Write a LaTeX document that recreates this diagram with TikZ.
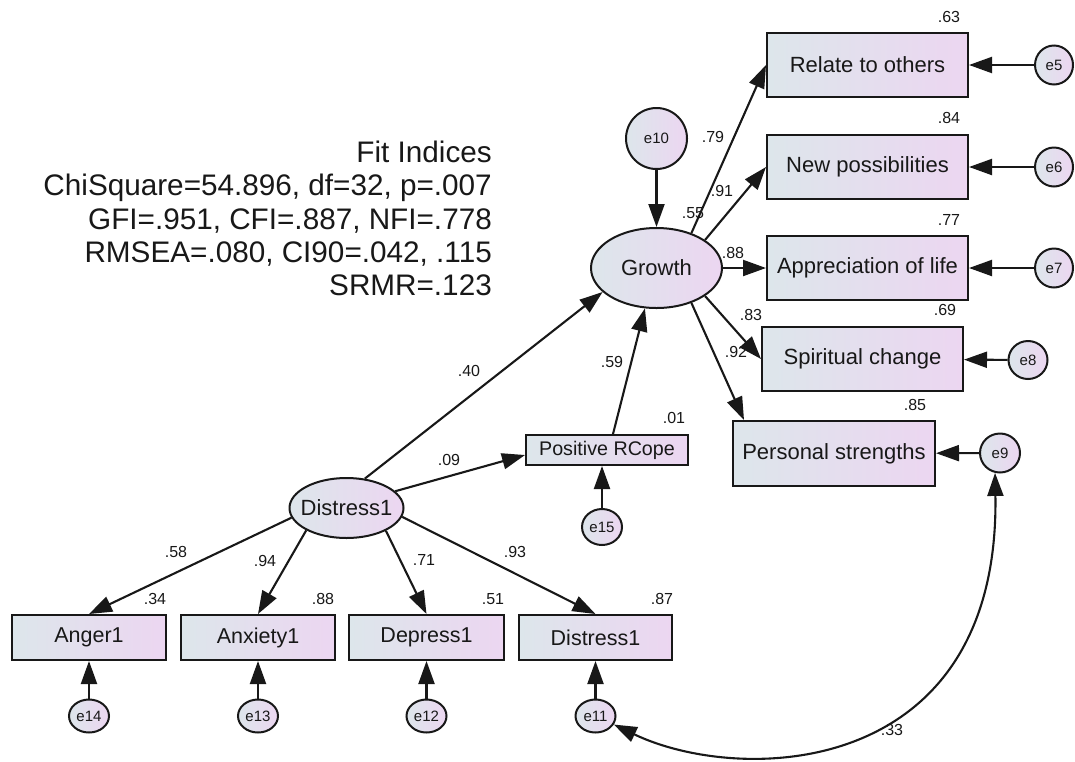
\documentclass[tikz,border=0pt]{standalone}
\usepackage{fontspec}
\setmainfont{Liberation Sans}
\usetikzlibrary{arrows.meta,shapes.geometric}
\definecolor{shadeL}{RGB}{221,230,235}
\definecolor{shadeR}{RGB}{236,214,241}
\definecolor{lineC}{RGB}{24,24,24}
\begin{document}
\begin{tikzpicture}[x=1pt,y=-1pt,
	obs/.style={draw=lineC,line width=2pt,left color=shadeL,right color=shadeR,inner sep=0pt,text=lineC,font=\fontsize{22}{26}\selectfont},
	lat/.style={obs,ellipse},
	err/.style={obs,ellipse,font=\fontsize{15}{18}\selectfont},
	causal/.style={draw=lineC,line width=2.1pt,-{Triangle[length=23pt,width=16pt]}},
	coef/.style={inner sep=0pt,text=lineC,font=\fontsize{16}{19}\selectfont}]
	\useasboundingbox (0,0) rectangle (1075,761);
	% fit indices
	\node[anchor=north east,align=right,inner sep=0pt,text=lineC,font=\fontsize{29.7}{33.4}\selectfont] at (492,140.5) (fit) {Fit Indices\\ChiSquare=54.896, df=32, p=.007\\GFI=.951, CFI=.887, NFI=.778\\RMSEA=.080, CI90=.042, .115\\SRMR=.123};
	% latent variables
	\node[lat,minimum width=131pt,minimum height=80pt] at (656.5,268) (growth) {\makebox[0pt]{Growth}};
	\node[lat,minimum width=114pt,minimum height=60pt] at (346.5,508) (distress) {\makebox[0pt]{Distress1}};
	% indicators of growth
	\node[obs,minimum width=201pt,minimum height=64pt] at (867.5,65) (rel) {Relate to others};
	\node[obs,minimum width=201pt,minimum height=64pt] at (867.5,167) (newp) {New possibilities};
	\node[obs,minimum width=201pt,minimum height=64pt] at (867.5,268) (appr) {Appreciation of life};
	\node[obs,minimum width=201pt,minimum height=64pt] at (862.5,359) (spir) {Spiritual change};
	\node[obs,minimum width=202pt,minimum height=65pt] at (834,453.5) (pers) {Personal strengths};
	\node[obs,minimum width=162pt,minimum height=30pt,font=\fontsize{19.7}{23}\selectfont] at (607,450) (prc) {Positive RCope};
	% indicators of distress
	\node[obs,minimum width=154pt,minimum height=45pt,font=\fontsize{21.5}{25}\selectfont] at (89,637.5) (anger) {Anger1};
	\node[obs,minimum width=154pt,minimum height=45pt,font=\fontsize{21.5}{25}\selectfont] at (258,637.5) (anx) {Anxiety1};
	\node[obs,minimum width=155pt,minimum height=45pt,font=\fontsize{21.5}{25}\selectfont] at (426.5,637.5) (dep) {Depress1};
	\node[obs,minimum width=153pt,minimum height=45pt,font=\fontsize{21.5}{25}\selectfont] at (595.5,637.5) (dist) {Distress1};
	% error terms
	\node[err,minimum width=38pt,minimum height=39pt] at (1054,65) (e5) {e5};
	\node[err,minimum width=38pt,minimum height=39pt] at (1054,167) (e6) {e6};
	\node[err,minimum width=38pt,minimum height=39pt] at (1054,268) (e7) {e7};
	\node[err,minimum width=39pt,minimum height=38pt] at (1028,360) (e8) {e8};
	\node[err,minimum width=40pt,minimum height=39pt] at (1000,453) (e9) {e9};
	\node[err,minimum width=61pt,minimum height=61pt] at (656.5,138.5) (e10) {e10};
	\node[err,minimum width=40pt,minimum height=36pt] at (602,527) (e15) {e15};
	\node[err,minimum width=40pt,minimum height=33pt] at (89,716) (e14) {e14};
	\node[err,minimum width=40pt,minimum height=33pt] at (258,716) (e13) {e13};
	\node[err,minimum width=40pt,minimum height=33pt] at (426.5,716) (e12) {e12};
	\node[err,minimum width=40pt,minimum height=33pt] at (595.5,716) (e11) {e11};
	% paths
	\draw[causal] (e10) -- (growth);
	\draw[causal] (growth.45) -- (rel.west);
	\draw[causal] (growth.30) -- (newp.west);
	\draw[causal] (growth.east) -- (appr.west);
	\draw[causal] (growth.-30) -- (spir.west);
	\draw[causal] (growth.-45) -- ([xshift=12pt]pers.north west);
	\draw[causal] (distress.58) -- (growth.204);
	\draw[causal] ([xshift=6pt]prc.north) -- (growth.254);
	\draw[causal] (distress.19) -- ([yshift=-5pt]prc.west);
	\draw[causal] (distress.190) -- (anger.north);
	\draw[causal] (distress.209) -- (anx.north);
	\draw[causal] (distress.-30) -- (dep.north);
	\draw[causal] (distress.-9) -- (dist.north);
	\draw[causal] (e5) -- (rel);
	\draw[causal] (e6) -- (newp);
	\draw[causal] (e7) -- (appr);
	\draw[causal] (e8) -- (spir);
	\draw[causal] (e9) -- (pers);
	\draw[causal] (e15) -- (e15 |- prc.south);
	\draw[causal] (e14) -- (anger);
	\draw[causal] (e13) -- (anx);
	\draw[causal] (e12) -- (dep);
	\draw[causal] (e11) -- (dist);
	% covariance
	\draw[causal,{Triangle[length=23pt,width=16pt]}-{Triangle[length=23pt,width=16pt]}] (e11.-25) .. controls (740,785) and (1000,780) .. (e9.256);
	% estimates
	\node[coef] at (949,17) (r5) {.63};
	\node[coef] at (949,118) (r6) {.84};
	\node[coef] at (949,220) (r7) {.77};
	\node[coef] at (945,310) (r8) {.69};
	\node[coef] at (915,405) (r9) {.85};
	\node[coef] at (713,137) (w5) {.79};
	\node[coef] at (722,191) (w6) {.91};
	\node[coef] at (693,213) (r10) {.55};
	\node[coef] at (733,253) (w7) {.88};
	\node[coef] at (751,315) (w8) {.83};
	\node[coef] at (736,352) (w9) {.92};
	\node[coef] at (612,362) (wrc) {.59};
	\node[coef] at (674,418) (rrc) {.01};
	\node[coef] at (469,371) (wdg) {.40};
	\node[coef] at (449,460) (wdr) {.09};
	\node[coef] at (176,552) (w14) {.58};
	\node[coef] at (155,599) (r14) {.34};
	\node[coef] at (265,561) (w13) {.94};
	\node[coef] at (323,599) (r13) {.88};
	\node[coef] at (424,560) (w12) {.71};
	\node[coef] at (493,599) (r12) {.51};
	\node[coef] at (515,552) (w11) {.93};
	\node[coef] at (662,599) (r11) {.87};
	\node[coef] at (892,730) (c9) {.33};
\end{tikzpicture}
\end{document}
